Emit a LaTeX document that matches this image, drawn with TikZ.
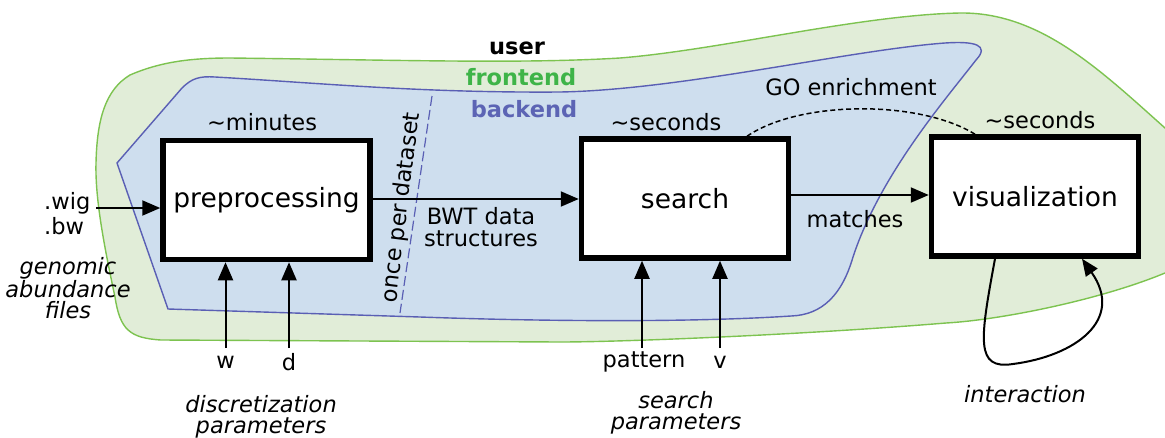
\documentclass[tikz,border=0pt]{standalone}
\usepackage{fontspec}
\setmainfont{DejaVu Sans}
\usetikzlibrary{arrows.meta}

\definecolor{frontfill}{RGB}{225,237,216}
\definecolor{frontline}{RGB}{125,195,80}
\definecolor{fronttext}{RGB}{62,180,72}
\definecolor{backfill}{RGB}{206,222,238}
\definecolor{backline}{RGB}{90,95,180}
\definecolor{backtext}{RGB}{92,100,180}

\begin{document}
\begin{tikzpicture}[x=1pt,y=-1pt,
  lbl/.style={font=\fontsize{22.5}{22}\selectfont, inner sep=0pt, align=center},
  ital/.style={lbl, font=\fontsize{22.5}{21.5}\selectfont\itshape},
  layer/.style={font=\fontsize{22.5}{22}\selectfont\bfseries, inner sep=0pt},
  stage/.style={draw, line width=5.5pt, fill=white, minimum width=207pt,
    minimum height=119pt, inner sep=0pt, font=\fontsize{26.5}{30}\selectfont},
  flow/.style={line width=2pt, -{Triangle[length=18pt,width=15pt]}},
  region/.style={line width=1.4pt}]

\useasboundingbox (0,0) rectangle (1165,437);

% frontend and backend areas
\begin{scope}
  \clip (0,0) rectangle (1165,437);
  \draw[region, draw=frontline, fill=frontfill]
    (130,75) .. controls (160,62) and (190,58) .. (230,58)
    .. controls (400,60) and (520,64) .. (620,58)
    .. controls (720,50) and (860,15) .. (960,13)
    .. controls (1040,12) and (1100,70) .. (1165,128)
    -- (1200,160) -- (1200,262) -- (1165,273)
    .. controls (1100,300) and (1000,320) .. (946,323)
    .. controls (800,335) and (620,342) .. (560,342)
    -- (161,340) .. controls (130,338) and (120,330) .. (115,297)
    .. controls (105,250) and (95,200) .. (96,163)
    .. controls (97,120) and (105,90) .. (130,75) -- cycle;
  \draw[region, draw=backline, fill=backfill]
    (117,163) -- (182,88) .. controls (192,78) and (200,76) .. (215,77)
    .. controls (320,83) and (420,93) .. (560,92)
    .. controls (680,90) and (850,50) .. (945,43)
    .. controls (975,41) and (990,45) .. (976,60)
    .. controls (945,100) and (880,175) .. (853,257)
    .. controls (842,295) and (822,315) .. (791,316)
    .. controls (700,322) and (560,322) .. (420,317)
    -- (168,309) -- cycle;
\end{scope}

% layer names
\node[layer] (user) at (517,48) {user};
\node[layer, text=fronttext] (frontend) at (521,77) {frontend};
\node[layer, text=backtext] (backend) at (524,109) {backend};

% once-per-dataset divider
\coordinate (divtop) at (432,96);
\coordinate (divbot) at (400,313);
\draw[backline, line width=1.2pt, dash pattern=on 10pt off 4pt] (divtop) -- (divbot);
\node[lbl, rotate=83] (once) at (401.5,207.5) {once per dataset};

% pipeline stages
\node[stage] (pre) at (266.5,200) {preprocessing};
\node[stage] (search) at (685,198.5) {search};
\node[stage] (vis) at (1035,196.5) {visualization};

\node[lbl] (tmin) at (262,122) {\textasciitilde minutes};
\node[lbl] (tsec1) at (666,122) {\textasciitilde seconds};
\node[lbl] (tsec2) at (1040,120) {\textasciitilde seconds};

% inputs to preprocessing
\node[lbl, align=left, anchor=west, font=\fontsize{22.5}{25}\selectfont] (wig) at (44,214) {.wig\\.bw};
\coordinate (wigin) at (96,208);
\draw[flow] (wigin) -- (wigin -| pre.west);
\node[ital] (files) at (68,288) {genomic\\abundance\\files};

\node[lbl] (w) at (225.5,362) {w};
\node[lbl] (d) at (289,362) {d};
\coordinate (win) at (225.5,348);
\coordinate (din) at (289,348);
\draw[flow] (win) -- (win |- pre.south);
\draw[flow] (din) -- (din |- pre.south);
\node[ital] (dpar) at (261,417) {discretization\\parameters};

% preprocessing to search
\draw[flow] (pre.east |- 0,199) -- (search.west |- 0,199);
\node[lbl] (bwt) at (481,227) {BWT data\\structures};

% inputs to search
\node[lbl] (pattern) at (644,362) {pattern};
\node[lbl] (v) at (720,362) {v};
\coordinate (pin) at (642,348);
\coordinate (vin) at (720,348);
\draw[flow] (pin) -- (pin |- search.south);
\draw[flow] (vin) -- (vin |- search.south);
\node[ital] (spar) at (676,413) {search\\parameters};

% search to visualization
\draw[flow] (search.east |- 0,195) -- (vis.west |- 0,195);
\node[lbl] (matches) at (855,219) {matches};

% GO enrichment link
\draw[line width=1.5pt, dash pattern=on 5pt off 3pt]
  ([xshift=62pt]search.north) .. controls (800,100) and (920,100) .. ([xshift=-60pt]vis.north);
\node[lbl] (go) at (851,87) {GO enrichment};

% interaction loop
\coordinate (loopa) at ([xshift=-40pt]vis.south);
\coordinate (loopb) at ([xshift=47pt]vis.south);
\draw[line width=2pt, -{Triangle[length=17pt,width=14pt]}]
  (loopa) .. controls (980,340) and (975,370) .. (1013,364)
  .. controls (1075,356) and (1125,320) .. (loopb);
\node[ital] (inter) at (1025,394) {interaction};

\end{tikzpicture}
\end{document}
